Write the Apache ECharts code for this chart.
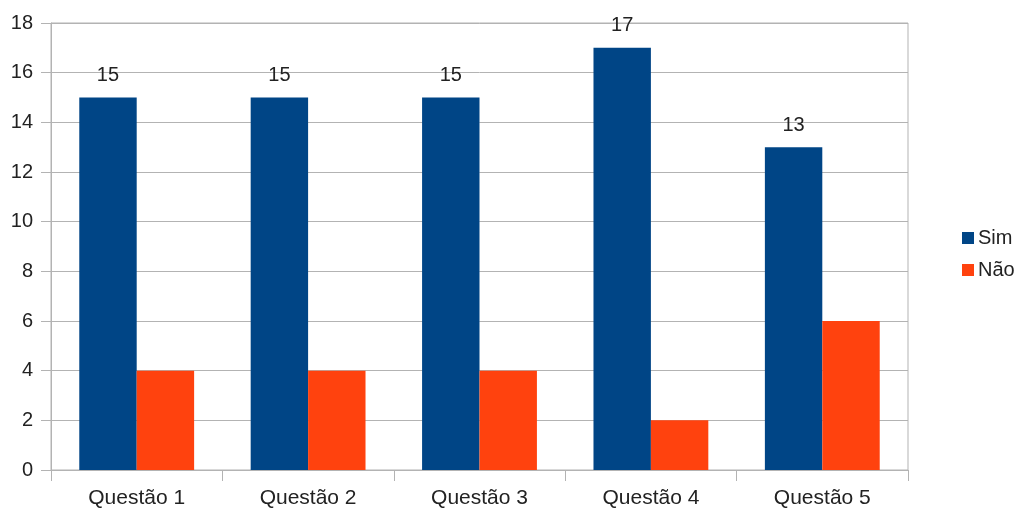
<!DOCTYPE html>
<html>
<head>
<meta charset="utf-8">
<script src="https://cdn.jsdelivr.net/npm/echarts@6/dist/echarts.min.js"></script>
<style>
  html, body { margin: 0; padding: 0; background: #fff; }
  #chart { width: 1026px; height: 512px; }
</style>
</head>
<body>
<div id="chart"></div>
<script>
// dados do gráfico
var categorias = ['Questão 1', 'Questão 2', 'Questão 3', 'Questão 4', 'Questão 5'];
var sim = [15, 15, 15, 17, 13];
var nao = [4, 4, 4, 2, 6];
var gridCor = '#b3b3b3';
var fonte = '"Liberation Sans", Arial, sans-serif';

var chart = echarts.init(document.getElementById('chart'));
var option = {
    animation: false,
    textStyle: { fontFamily: fonte },
    grid: {
        left: 51, right: 118, top: 23, bottom: 42,
        show: true, borderColor: gridCor, borderWidth: 1
    },
    legend: {
        orient: 'vertical',
        left: 962, top: 228, padding: 0,
        itemWidth: 12, itemHeight: 12, itemGap: 12,
        icon: 'rect',
        textStyle: { fontSize: 20, color: '#222', fontFamily: fonte, padding: [0, 0, 0, -1] },
        data: ['Sim', 'Não']
    },
    xAxis: {
        type: 'category',
        data: categorias,
        axisLine: { lineStyle: { color: gridCor } },
        axisTick: { show: true, length: 11, alignWithLabel: false, lineStyle: { color: gridCor } },
        axisLabel: { fontSize: 21, color: '#222', margin: 18, fontFamily: fonte }
    },
    yAxis: {
        type: 'value',
        min: 0, max: 18, interval: 2,
        axisLine: { show: true, lineStyle: { color: gridCor } },
        axisTick: { show: true, length: 10, lineStyle: { color: gridCor } },
        axisLabel: { fontSize: 20, color: '#222', margin: 18, fontFamily: fonte },
        splitLine: { lineStyle: { color: gridCor } }
    },
    series: [
        {
            name: 'Sim', type: 'bar', data: sim,
            barGap: '0%', barCategoryGap: '33%',
            itemStyle: { color: '#004586' },
            label: { show: true, position: 'top', distance: 12, fontSize: 20, color: '#222', fontFamily: fonte }
        },
        {
            name: 'Não', type: 'bar', data: nao,
            itemStyle: { color: '#ff420e' }
        }
    ]
};
chart.setOption(option);
</script>
</body>
</html>
